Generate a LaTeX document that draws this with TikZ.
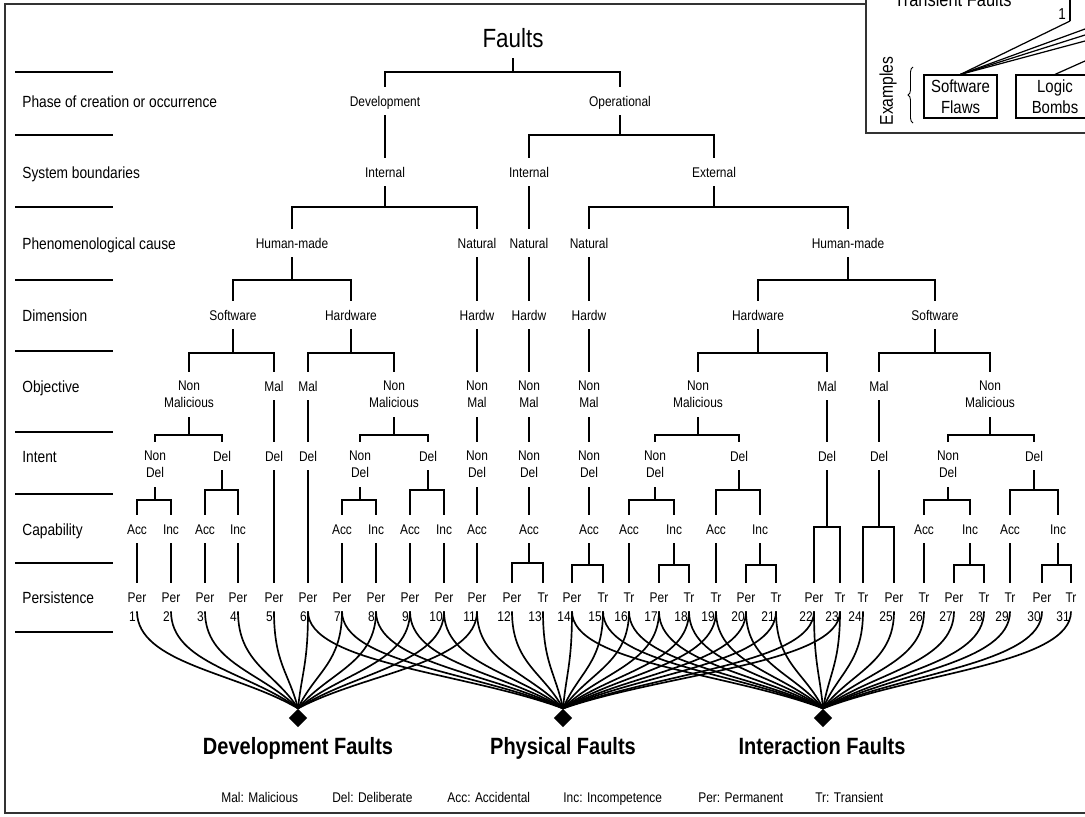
\documentclass[tikz,border=0pt]{standalone}
\usepackage{fontspec}
\setmainfont{Liberation Sans}[FakeStretch=0.85]
\usepackage{tikz}
\usetikzlibrary{shapes,arrows,positioning,decorations.pathreplacing}

\newcommand\lblfont{\fontsize{8}{9.7}\selectfont}
\newcommand\rowfont{\fontsize{9.2}{11}\selectfont}
% parent, level of the bar, children
\newcommand\fork[3]{\coordinate (bar) at (0,#2);
  \foreach \kid in {#3} {\draw[branch] (#1.south) -- (#1.south |- bar) -| (\kid.north);}}

\begin{document}
\begin{tikzpicture}[x=0.02cm,y=-0.02cm,
    lbl/.style={inner sep=0pt, minimum height=0.56cm, text height=6pt, text depth=0pt, font=\lblfont},
    lbltwo/.style={inner sep=0pt, minimum height=0.9cm, align=center, font=\lblfont},
    rowlbl/.style={anchor=west, inner sep=0pt, text height=6.9pt, text depth=0pt, font=\rowfont},
    num/.style={anchor=east, inner sep=0pt, font=\lblfont},
    branch/.style={line width=1pt},
    link/.style={line width=0.95pt},
    sink/.style={diamond, fill=black, inner sep=0pt, minimum size=0.37cm},
    group/.style={anchor=base, inner sep=0pt, font=\bfseries\fontsize{13.4}{15}\selectfont},
    legend/.style={anchor=base west, inner sep=0pt, font=\lblfont}]
        \useasboundingbox (0,0) rectangle (1085,816);
        \clip (0,0) rectangle (1085,816);

        % Frame
        \draw[line width=1pt, black!80] (1100,4) -- (5,4) -- (5,813) -- (1100,813);

        % Row labels
        \foreach \y in {72,135,207,280,351,432,494,563,632} {
            \draw[branch] (15,\y) -- (113,\y);
        }
        \foreach \y/\t in {101/Phase of creation or occurrence, 172/System boundaries,
            243/Phenomenological cause, 315/Dimension, 386/Objective, 456/Intent,
            529/Capability, 597/Persistence} {
            \node[rowlbl] (row\y) at (22,\y) {\t};
        }

        % Tree
        \node[inner sep=0pt, minimum height=0.8cm, font=\fontsize{15}{18}\selectfont] (flt) at (513,38) {Faults};

        \node[lbl] (dev) at (385,101) {Development};
        \node[lbl] (op) at (620,101) {Operational};

        \node[lbl] (intD) at (385,172) {Internal};
        \node[lbl] (intO) at (529,172) {Internal};
        \node[lbl] (ext) at (714,172) {External};

        \node[lbl] (hmD) at (292,243) {Human-made};
        \node[lbl] (natD) at (477,243) {Natural};
        \node[lbl] (natO) at (529,243) {Natural};
        \node[lbl] (natE) at (589,243) {Natural};
        \node[lbl] (hmE) at (848,243) {Human-made};

        \node[lbl] (swD) at (233,315) {Software};
        \node[lbl] (hwD) at (351,315) {Hardware};
        \node[lbl] (hwA) at (477,315) {Hardw};
        \node[lbl] (hwB) at (529,315) {Hardw};
        \node[lbl] (hwC) at (589,315) {Hardw};
        \node[lbl] (hwE) at (758,315) {Hardware};
        \node[lbl] (swE) at (935,315) {Software};

        % Objective
        \node[lbltwo] (nmA) at (189,394.5) {Non\\Malicious};
        \node[lbl] (malA) at (274,386) {Mal};
        \node[lbl] (malB) at (308,386) {Mal};
        \node[lbltwo] (nmB) at (394,394.5) {Non\\Malicious};
        \node[lbltwo] (nmC) at (477,394.5) {Non\\Mal};
        \node[lbltwo] (nmD) at (529,394.5) {Non\\Mal};
        \node[lbltwo] (nmE) at (589,394.5) {Non\\Mal};
        \node[lbltwo] (nmF) at (698,394.5) {Non\\Malicious};
        \node[lbl] (malC) at (827,386) {Mal};
        \node[lbl] (malD) at (879,386) {Mal};
        \node[lbltwo] (nmG) at (990,394.5) {Non\\Malicious};

        % Intent
        \node[lbltwo] (ndA) at (155,464.5) {Non\\Del};
        \node[lbl] (delA) at (222,456) {Del};
        \node[lbl] (delB) at (274,456) {Del};
        \node[lbl] (delC) at (308,456) {Del};
        \node[lbltwo] (ndB) at (360,464.5) {Non\\Del};
        \node[lbl] (delD) at (428,456) {Del};
        \node[lbltwo] (ndC) at (477,464.5) {Non\\Del};
        \node[lbltwo] (ndD) at (529,464.5) {Non\\Del};
        \node[lbltwo] (ndE) at (589,464.5) {Non\\Del};
        \node[lbltwo] (ndF) at (655,464.5) {Non\\Del};
        \node[lbl] (delE) at (739,456) {Del};
        \node[lbl] (delF) at (827,456) {Del};
        \node[lbl] (delG) at (879,456) {Del};
        \node[lbltwo] (ndG) at (948,464.5) {Non\\Del};
        \node[lbl] (delH) at (1034,456) {Del};

        % Capability
        \foreach \n/\x/\t in {1/137/Acc, 2/171/Inc, 3/205/Acc, 4/238/Inc, 7/342/Acc, 8/376/Inc,
            9/410/Acc, 10/444/Inc, 11/477/Acc, 12/529/Acc, 14/589/Acc, 16/629/Acc, 17/674/Inc,
            19/716/Acc, 20/760/Inc, 26/924/Acc, 27/970/Inc, 29/1010/Acc, 30/1058/Inc} {
            \node[lbl] (c\n) at (\x,529) {\t};
        }

        % Persistence and class numbers
        \foreach \n/\x/\t in {1/137/Per, 2/171/Per, 3/205/Per, 4/238/Per, 5/274/Per, 6/308/Per,
            7/342/Per, 8/376/Per, 9/410/Per, 10/444/Per, 11/477/Per, 12/512/Per, 13/543/Tr,
            14/572/Per, 15/603/Tr, 16/629/Tr, 17/659/Per, 18/689/Tr, 19/716/Tr, 20/746/Per,
            21/776/Tr, 22/814/Per, 23/840/Tr, 24/863/Tr, 25/894/Per, 26/924/Tr, 27/954/Per,
            28/984/Tr, 29/1010/Tr, 30/1042/Per, 31/1071/Tr} {
            \node[lbl] (p\n) at (\x,597) {\t};
            \node[num] (n\n) at (\x-1,617) {\n};
        }

        % Branches
        \fork{flt}{72}{dev,op}
        \fork{op}{135}{intO,ext}
        \fork{intD}{207}{hmD,natD}
        \fork{ext}{207}{natE,hmE}
        \fork{hmD}{280}{swD,hwD}
        \fork{hmE}{280}{hwE,swE}
        \fork{swD}{353}{nmA,malA}
        \fork{hwD}{353}{malB,nmB}
        \fork{hwE}{353}{nmF,malC}
        \fork{swE}{353}{malD,nmG}
        \fork{nmA}{435}{ndA,delA}
        \fork{nmB}{435}{ndB,delD}
        \fork{nmF}{435}{ndF,delE}
        \fork{nmG}{435}{ndG,delH}
        \fork{ndA}{500}{c1,c2}
        \fork{delA}{490}{c3,c4}
        \fork{ndB}{500}{c7,c8}
        \fork{delD}{490}{c9,c10}
        \fork{ndF}{500}{c16,c17}
        \fork{delE}{490}{c19,c20}
        \fork{ndG}{500}{c26,c27}
        \fork{delH}{490}{c29,c30}
        \fork{delF}{527}{p22,p23}
        \fork{delG}{527}{p24,p25}
        \fork{c12}{563}{p12,p13}
        \fork{c14}{565}{p14,p15}
        \fork{c17}{565}{p17,p18}
        \fork{c20}{565}{p20,p21}
        \fork{c27}{565}{p27,p28}
        \fork{c30}{565}{p30,p31}
        \foreach \a/\b in {dev/intD, intO/natO, natD/hwA, natO/hwB, natE/hwC, hwA/nmC, hwB/nmD,
            hwC/nmE, malA/delB, malB/delC, nmC/ndC, nmD/ndD, nmE/ndE, malC/delF, malD/delG,
            delB/p5, delC/p6, ndC/c11, ndD/c12, ndE/c14, c1/p1, c2/p2, c3/p3, c4/p4, c7/p7,
            c8/p8, c9/p9, c10/p10, c11/p11, c16/p16, c19/p19, c26/p26, c29/p29} {
            \draw[branch] (\a.south) -- (\b.north);
        }

        % Fault groups
        \node[sink] (dDev) at (298,718) {};
        \node[sink] (dPhy) at (563,718) {};
        \node[sink] (dInt) at (823,718) {};
        \node[group] (gDev) at (298,754) {Development Faults};
        \node[group] (gPhy) at (563,754) {Physical Faults};
        \node[group] (gInt) at (822,754) {Interaction Faults};

        \foreach \n/\x in {1/137, 2/171, 3/205, 4/238, 5/274, 6/308, 7/342, 8/376, 9/410, 10/444, 11/477} {
            \draw[link] (p\n.south) .. controls +(0,52) and +({0.38*(\x-298)},-36) .. (dDev.north);
        }
        \foreach \n/\x in {6/308, 7/342, 8/376, 9/410, 10/444, 11/477, 12/512, 13/543, 14/572,
            15/603, 16/629, 17/659, 18/689, 19/716, 20/746, 21/776, 22/814, 23/840} {
            \draw[link] (p\n.south) .. controls +(0,52) and +({0.38*(\x-563)},-36) .. (dPhy.north);
        }
        \foreach \n/\x in {14/572, 15/603, 16/629, 17/659, 18/689, 19/716, 20/746, 21/776, 22/814,
            23/840, 24/863, 25/894, 26/924, 27/954, 28/984, 29/1010, 30/1042, 31/1071} {
            \draw[link] (p\n.south) .. controls +(0,52) and +({0.38*(\x-823)},-36) .. (dInt.north);
        }

        % Legend
        \node[legend] (lgMal) at (221,802) {Mal: Malicious};
        \node[legend] (lgDel) at (332,802) {Del: Deliberate};
        \node[legend] (lgAcc) at (447,802) {Acc: Accidental};
        \node[legend] (lgInc) at (563,802) {Inc: Incompetence};
        \node[legend] (lgPer) at (698,802) {Per: Permanent};
        \node[legend] (lgTr) at (815,802) {Tr: Transient};

        % Inset (top right)
        \filldraw[fill=white, draw=black!80, line width=1pt] (866,-5) rectangle (1100,133);
        \node[anchor=base, inner sep=0pt, font=\fontsize{11}{13}\selectfont] (trf) at (953,6) {Transient Faults};
        \node[inner sep=0pt, font=\fontsize{9}{11}\selectfont] (one) at (1062,14) {1};
        \draw[line width=0.7pt] (1070,-5) -- (1070,21) coordinate (cnr);
        \node[draw, line width=0.7pt, align=center, inner sep=0pt, minimum width=1.46cm,
            minimum height=0.86cm, font=\fontsize{10}{12}\selectfont] (swf) at (960.5,96.5) {Software\\Flaws};
        \node[draw, line width=0.7pt, align=center, inner sep=0pt, minimum width=1.56cm,
            minimum height=0.86cm, font=\fontsize{10}{12}\selectfont] (lgb) at (1055,96.5) {Logic\\Bombs};
        \draw[line width=0.7pt] (swf.north) -- (cnr);
        \foreach \y in {29,35,41} {
            \draw[line width=0.7pt] (swf.north) -- (1085,\y);
        }
        \draw[line width=0.7pt] (lgb.north) -- (1085,61);
        \node[rotate=90, inner sep=0pt, font=\fontsize{10.5}{12}\selectfont] (exm) at (888,91) {Examples};
        \draw[decorate, decoration={brace, amplitude=0.1cm}, line width=0.5pt] (913,123) -- (913,67);
    \end{tikzpicture}
\end{document}
